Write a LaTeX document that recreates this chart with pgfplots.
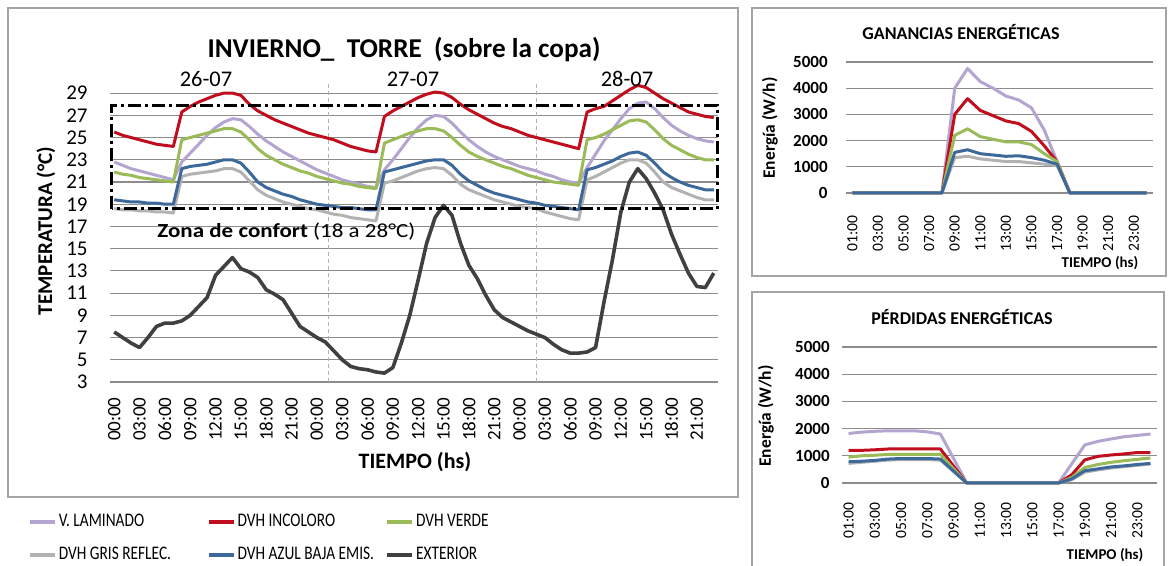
\documentclass[border=0pt]{standalone}
\usepackage{fontspec}
\setmainfont{Carlito}
\usepackage{graphicx}
\usepackage{pgfplots}
\usepackage{pgfplotstable}
\pgfplotsset{compat=1.18}

\definecolor{clam}{RGB}{179,165,207}
\definecolor{cinc}{RGB}{192,14,30}
\definecolor{cver}{RGB}{155,187,89}
\definecolor{cgris}{RGB}{178,178,178}
\definecolor{cazul}{RGB}{60,104,154}
\definecolor{cext}{RGB}{64,64,64}
\definecolor{cgrid}{RGB}{140,140,140}
\definecolor{cframe}{RGB}{165,165,165}

% temperaturas horarias, 26-07 a 28-07
\pgfplotstableread{
h  lam  inc  ver  gris azul ext
0  22.8 25.5 21.9 18.6 19.4 7.5
1  22.5 25.2 21.7 18.5 19.3 7.0
2  22.2 25.0 21.6 18.5 19.2 6.5
3  22.0 24.8 21.4 18.4 19.2 6.1
4  21.8 24.6 21.3 18.4 19.1 7.0
5  21.6 24.4 21.2 18.3 19.1 8.0
6  21.4 24.3 21.1 18.3 19.0 8.3
7  21.2 24.2 21.0 18.2 19.0 8.3
8  22.8 27.3 24.8 21.5 22.2 8.5
9  23.6 27.8 25.0 21.7 22.4 9.0
10 24.4 28.2 25.2 21.8 22.5 9.8
11 25.2 28.5 25.4 21.9 22.6 10.6
12 25.9 28.8 25.6 22.0 22.8 12.6
13 26.4 29.0 25.8 22.2 23.0 13.4
14 26.7 29.0 25.8 22.2 23.0 14.2
15 26.6 28.8 25.5 21.9 22.7 13.2
16 26.0 28.0 24.8 21.1 21.9 12.9
17 25.3 27.4 24.0 20.3 21.0 12.4
18 24.7 27.0 23.4 19.8 20.5 11.3
19 24.2 26.6 23.0 19.5 20.2 10.9
20 23.7 26.3 22.6 19.2 19.9 10.4
21 23.3 26.0 22.3 19.0 19.7 9.2
22 22.9 25.7 22.0 18.8 19.4 8.0
23 22.5 25.4 21.8 18.6 19.2 7.5
24 22.1 25.2 21.5 18.5 19.0 7.0
25 21.8 25.0 21.3 18.3 18.9 6.6
26 21.5 24.8 21.1 18.1 18.8 5.8
27 21.2 24.5 20.9 18.0 18.7 5.0
28 21.0 24.2 20.8 17.8 18.7 4.4
29 20.8 24.0 20.6 17.7 18.6 4.2
30 20.6 23.8 20.5 17.6 18.5 4.1
31 20.5 23.7 20.4 17.5 18.5 3.9
32 22.1 26.9 24.5 20.9 21.9 3.8
33 23.0 27.4 24.8 21.1 22.1 4.3
34 24.0 27.8 25.1 21.4 22.3 6.5
35 25.0 28.2 25.4 21.7 22.5 9.0
36 25.9 28.6 25.6 22.0 22.7 12.2
37 26.6 28.9 25.8 22.2 22.9 15.5
38 27.0 29.1 25.8 22.3 23.0 17.8
39 26.9 29.0 25.6 22.2 23.0 18.9
40 26.3 28.6 25.0 21.6 22.5 18.0
41 25.5 28.0 24.3 20.8 21.7 15.5
42 24.8 27.5 23.7 20.3 21.1 13.5
43 24.2 27.1 23.3 20.0 20.7 12.3
44 23.7 26.7 23.0 19.7 20.3 10.8
45 23.3 26.3 22.7 19.4 20.0 9.5
46 23.0 26.0 22.4 19.2 19.8 8.8
47 22.7 25.8 22.2 19.0 19.6 8.4
48 22.4 25.5 21.9 18.8 19.4 8.0
49 22.2 25.2 21.6 18.7 19.2 7.6
50 22.0 25.0 21.4 18.6 19.1 7.3
51 21.7 24.8 21.2 18.3 18.9 7.0
52 21.5 24.6 21.0 18.1 18.8 6.4
53 21.2 24.4 20.9 17.9 18.7 5.9
54 21.0 24.2 20.8 17.7 18.6 5.6
55 20.9 24.0 20.7 17.6 18.5 5.6
56 22.3 27.3 24.8 21.2 22.1 5.7
57 23.5 27.6 25.0 21.5 22.3 6.1
58 24.7 27.8 25.3 21.9 22.6 10.2
59 25.7 28.3 25.7 22.3 22.9 14.0
60 26.7 28.8 26.1 22.7 23.3 18.3
61 27.6 29.3 26.5 23.0 23.6 21.0
62 28.1 29.7 26.6 23.0 23.7 22.2
63 28.2 29.5 26.4 22.7 23.4 21.3
64 27.6 29.0 25.7 21.9 22.7 20.0
65 26.8 28.5 24.9 21.0 21.9 18.5
66 26.1 28.1 24.3 20.5 21.4 16.3
67 25.6 27.7 23.9 20.2 21.0 14.5
68 25.2 27.3 23.5 19.9 20.7 12.8
69 24.9 27.1 23.2 19.6 20.5 11.6
70 24.7 26.9 23.0 19.4 20.3 11.5
71 24.6 26.8 23.0 19.4 20.3 12.8
}\tmain

% ganancias energeticas (W/h)
\pgfplotstableread{
h  lam  inc  ver  gris azul
1  0    0    0    0    0
2  0    0    0    0    0
3  0    0    0    0    0
4  0    0    0    0    0
5  0    0    0    0    0
6  0    0    0    0    0
7  0    0    0    0    0
8  0    0    0    0    0
9  4000 3000 2200 1350 1550
10 4750 3600 2450 1400 1650
11 4250 3150 2150 1300 1500
12 4000 2950 2050 1250 1450
13 3700 2750 1950 1200 1400
14 3550 2650 1950 1200 1420
15 3250 2350 1850 1150 1350
16 2400 1800 1500 1100 1250
17 1200 1200 1200 1050 1100
18 0    0    0    0    0
19 0    0    0    0    0
20 0    0    0    0    0
21 0    0    0    0    0
22 0    0    0    0    0
23 0    0    0    0    0
24 0    0    0    0    0
}\tgan

% perdidas energeticas (W/h)
\pgfplotstableread{
h  lam  inc  ver  gris azul
1  1820 1200 950  720  780
2  1870 1200 1000 760  800
3  1900 1220 1020 800  830
4  1920 1250 1050 840  880
5  1920 1250 1050 860  900
6  1920 1250 1050 860  900
7  1880 1250 1050 860  900
8  1800 1250 1050 840  880
9  900  620  520  420  440
10 0    0    0    0    0
11 0    0    0    0    0
12 0    0    0    0    0
13 0    0    0    0    0
14 0    0    0    0    0
15 0    0    0    0    0
16 0    0    0    0    0
17 0    0    0    0    0
18 700  300  200  120  150
19 1400 850  570  400  450
20 1530 980  680  480  520
21 1620 1030 760  550  590
22 1700 1070 820  600  630
23 1750 1120 870  650  680
24 1800 1120 920  700  720
}\tper

\pgfplotsset{
  panel/.style={
    scale only axis, anchor=south west,
    axis line style={draw=none}, major tick length=0pt,
    ymajorgrids, major grid style={cgrid, line width=0.55pt},
    tick label style={inner sep=0pt},
    /pgf/number format/assume math mode=true,
    clip=false,
  },
  serie/.style={color=#1, line width=1.5pt, no markers, line join=round},
}

\begin{document}
\begin{tikzpicture}
\useasboundingbox (0,0) rectangle (586pt,283pt);

% ---------- grafico principal ----------
\begin{axis}[panel,
  at={(55pt,92pt)}, width=304pt, height=150pt,
  xmin=-0.5, xmax=71.5, ymin=3, ymax=30,
  ytick={3,5,...,29},
  xtick={0,3,...,69},
  xticklabels={00:00,03:00,06:00,09:00,12:00,15:00,18:00,21:00,
               00:00,03:00,06:00,09:00,12:00,15:00,18:00,21:00,
               00:00,03:00,06:00,09:00,12:00,15:00,18:00,21:00},
  yticklabel style={font=\fontsize{10.5}{12}\selectfont},
  xticklabel style={font=\fontsize{9.5}{11}\selectfont, rotate=90, anchor=east},
  yticklabel shift=11pt, xticklabel shift=7.5pt,
  legend columns=3,
  legend style={at={(-0.135,-0.432)}, anchor=north west, draw=none, fill=none,
    inner sep=0pt, row sep=6.5pt,
    nodes={inner sep=1pt, text height=6.5pt, text depth=1.5pt,
           font=\fontsize{9.6}{11}\selectfont}},
  legend cell align=left,
  legend image code/.code={\draw[#1, line width=1.8pt] (0pt,0pt) -- (12.5pt,0pt);},
]
\draw[gray!60, line width=0.5pt, dash pattern=on 2pt off 1.5pt]
  (axis cs:25.4,3) -- (axis cs:25.4,30);
\draw[gray!60, line width=0.5pt, dash pattern=on 2pt off 1.5pt]
  (axis cs:50,3) -- (axis cs:50,30);

\addplot[serie=clam] table[x=h, y=lam] {\tmain};
\addlegendentry{\makebox[73pt][l]{\scalebox{0.8}[1]{V. LAMINADO}}}
\addplot[serie=cinc] table[x=h, y=inc] {\tmain};
\addlegendentry{\makebox[73pt][l]{\scalebox{0.8}[1]{DVH INCOLORO}}}
\addplot[serie=cver] table[x=h, y=ver] {\tmain};
\addlegendentry{\makebox[73pt][l]{\scalebox{0.8}[1]{DVH VERDE}}}
\addplot[serie=cgris] table[x=h, y=gris] {\tmain};
\addlegendentry{\makebox[73pt][l]{\scalebox{0.8}[1]{DVH GRIS REFLEC.}}}
\addplot[serie=cazul] table[x=h, y=azul] {\tmain};
\addlegendentry{\makebox[73pt][l]{\scalebox{0.8}[1]{DVH AZUL BAJA EMIS.}}}
\addplot[serie=cext, line width=1.8pt] table[x=h, y=ext] {\tmain};
\addlegendentry{\makebox[73pt][l]{\scalebox{0.8}[1]{EXTERIOR}}}

% zona de confort
\draw[black, line width=1.4pt, dash pattern=on 6.5pt off 2pt on 1.5pt off 2pt]
  (axis cs:-0.3,18.6) rectangle (axis cs:71.4,27.9);
\end{axis}

% ---------- ganancias ----------
\begin{axis}[panel,
  at={(423pt,186.5pt)}, width=153.5pt, height=65.5pt,
  xmin=0.5, xmax=24.5, ymin=0, ymax=5000,
  ytick={0,1000,...,5000}, yticklabels={0,1000,2000,3000,4000,5000},
  xtick={1,3,...,23},
  xticklabels={01:00,03:00,05:00,07:00,09:00,11:00,13:00,15:00,17:00,19:00,21:00,23:00},
  yticklabel style={font=\bfseries\fontsize{8.5}{10}\selectfont},
  xticklabel style={font=\fontsize{7.8}{9}\selectfont, rotate=90, anchor=east},
  yticklabel shift=9pt, xticklabel shift=11pt,
]
\addplot[serie=clam] table[x=h, y=lam] {\tgan};
\addplot[serie=cinc] table[x=h, y=inc] {\tgan};
\addplot[serie=cver] table[x=h, y=ver] {\tgan};
\addplot[serie=cgris] table[x=h, y=gris] {\tgan};
\addplot[serie=cazul] table[x=h, y=azul] {\tgan};
\end{axis}

% ---------- perdidas ----------
\begin{axis}[panel,
  at={(421pt,41.5pt)}, width=157.5pt, height=68pt,
  xmin=0.5, xmax=24.5, ymin=0, ymax=5000,
  ytick={0,1000,...,5000}, yticklabels={0,1000,2000,3000,4000,5000},
  xtick={1,3,...,23},
  xticklabels={01:00,03:00,05:00,07:00,09:00,11:00,13:00,15:00,17:00,19:00,21:00,23:00},
  yticklabel style={font=\bfseries\fontsize{8.5}{10}\selectfont},
  xticklabel style={font=\fontsize{7.8}{9}\selectfont, rotate=90, anchor=east},
  yticklabel shift=6pt, xticklabel shift=9.5pt,
]
\addplot[serie=clam] table[x=h, y=lam] {\tper};
\addplot[serie=cinc] table[x=h, y=inc] {\tper};
\addplot[serie=cver] table[x=h, y=ver] {\tper};
\addplot[serie=cgris] table[x=h, y=gris] {\tper};
\addplot[serie=cazul] table[x=h, y=azul] {\tper};
\end{axis}

% ---------- marcos y textos (coordenadas en px, y invertida) ----------
\begin{scope}[x=0.5pt, y=0.5pt]
\draw[cframe, line width=0.7pt] (8,69) rectangle (738,558);
\draw[cframe, line width=0.7pt] (752,290) rectangle (1166,558);
\draw[cframe, line width=0.7pt] (752,-4) -- (752,274) -- (1164,274) -- (1164,-4);

\node[font=\bfseries\fontsize{13.6}{15}\selectfont] at (404,516)
  {INVIERNO\_\ \ TORRE\ \ (sobre la copa)};
\node[font=\fontsize{11.2}{13}\selectfont] at (206,487) {26-07};
\node[font=\fontsize{11.2}{13}\selectfont] at (413,487) {27-07};
\node[font=\fontsize{11.2}{13}\selectfont] at (627,487) {28-07};
\node[anchor=west, inner sep=0pt, font=\fontsize{10}{12}\selectfont] at (157,334)
  {\scalebox{1.15}[1]{\textbf{Zona de confort} (18 a 28°C)}};
\node[rotate=90, font=\bfseries\fontsize{10.5}{12}\selectfont] at (46,335)
  {TEMPERATURA (°C)};
\node[font=\bfseries\fontsize{11}{13}\selectfont] at (415,104) {TIEMPO (hs)};

\node[font=\bfseries\fontsize{9}{11}\selectfont] at (961,534) {GANANCIAS ENERGÉTICAS};
\node[rotate=90, font=\bfseries\fontsize{8.7}{10}\selectfont] at (770,438) {Energía (W/h)};
\node[font=\bfseries\fontsize{7.5}{9}\selectfont] at (1100,303) {TIEMPO (hs)};

\node[font=\bfseries\fontsize{9}{11}\selectfont] at (962,249) {PÉRDIDAS ENERGÉTICAS};
\node[rotate=90, font=\bfseries\fontsize{8.7}{10}\selectfont] at (766,150) {Energía (W/h)};
\node[font=\bfseries\fontsize{7.5}{9}\selectfont] at (1105,11) {TIEMPO (hs)};
\end{scope}
\end{tikzpicture}
\end{document}
